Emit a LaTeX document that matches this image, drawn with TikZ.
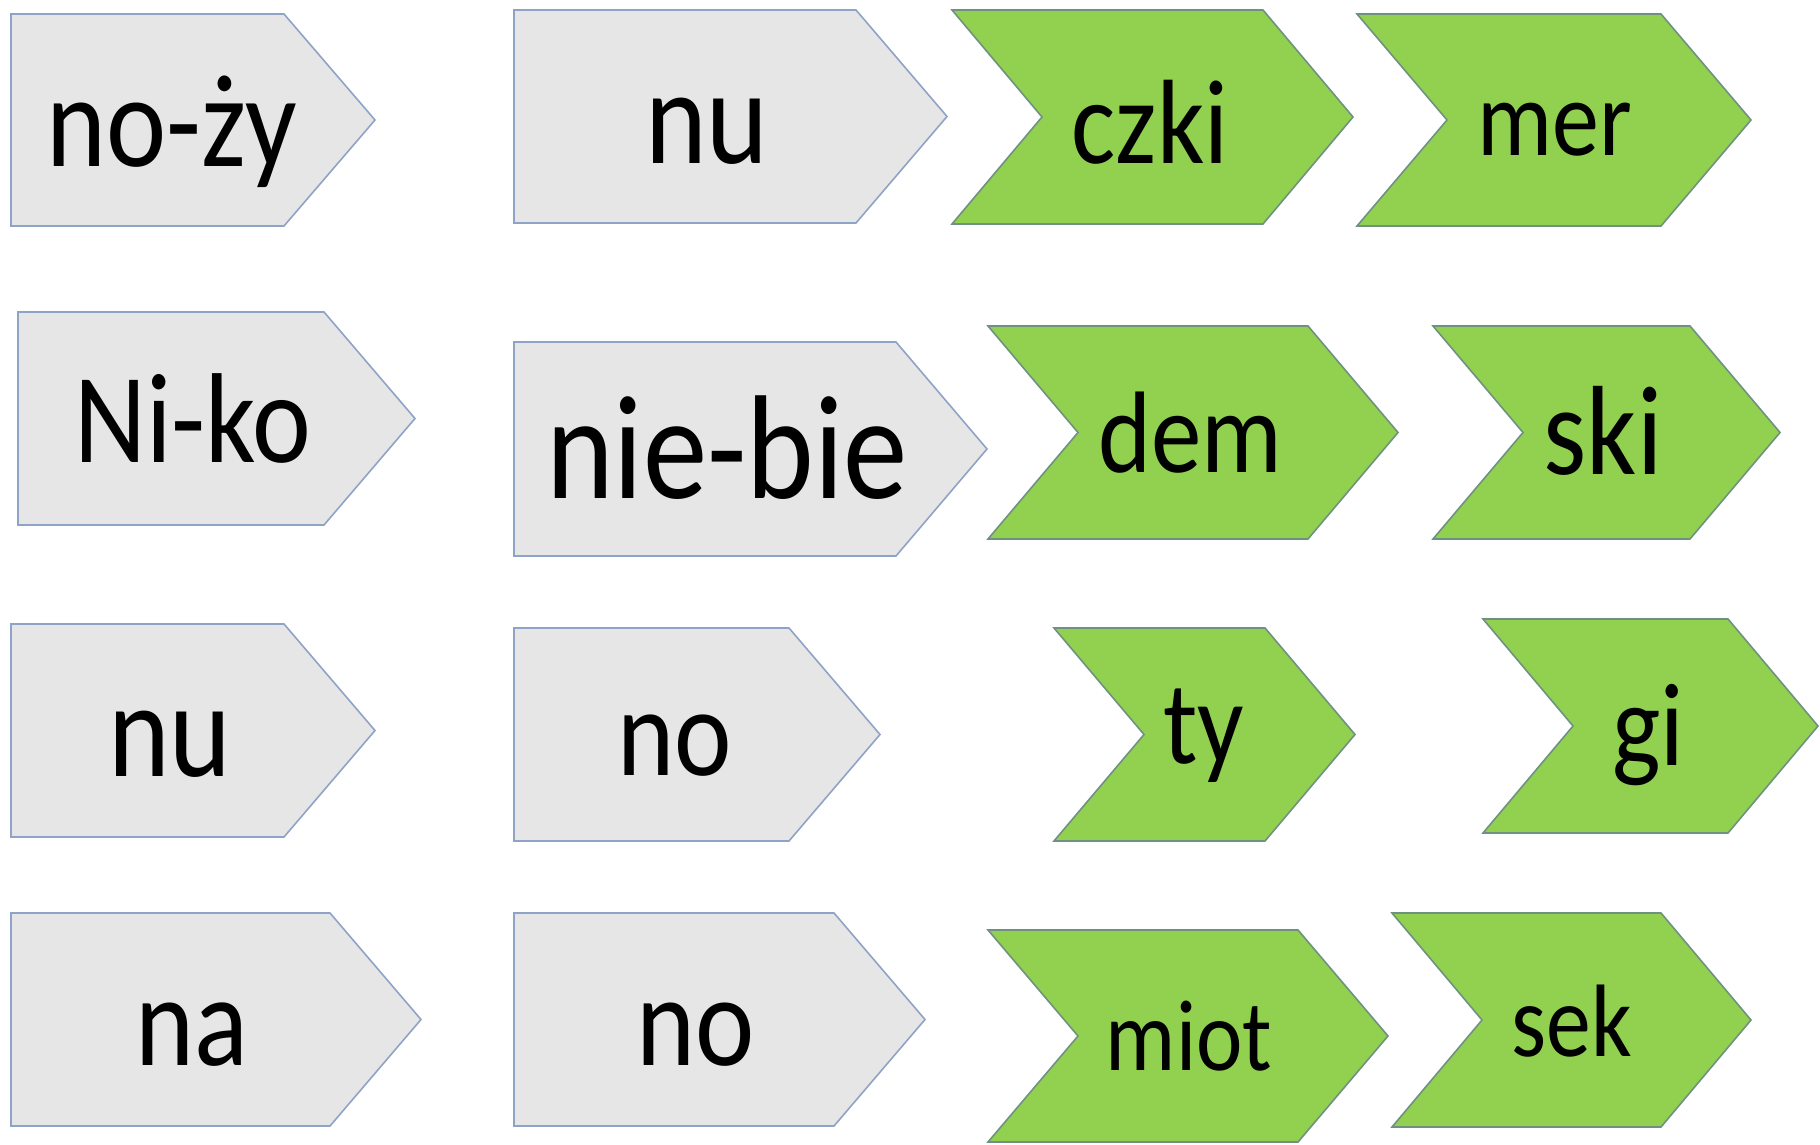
\documentclass[tikz,border=0pt]{standalone}
\usepackage{fontspec}
\setmainfont{Carlito}
\usepackage{tikz}
\definecolor{boxgrey}{HTML}{E7E6E6}
\definecolor{boxedge}{HTML}{8FA3C6}
\definecolor{leaf}{HTML}{92D050}
\definecolor{leafedge}{HTML}{6F9280}
\newcommand\wsize[1]{\fontsize{#1}{#1}\selectfont}
% grey arrow: left, top, bottom, tip
\def\GA#1#2#3#4{\draw [grey arrow] (#1,#2) -- (#4-91,#2) -- (#4,{(#2+#3)/2}) -- (#4-91,#3) -- (#1,#3) -- cycle;}
% green chevron: left, top, bottom, tip
\def\CH#1#2#3#4{\draw [green chevron] (#1,#2) -- (#4-90,#2) -- (#4,{(#2+#3)/2}) -- (#4-90,#3) -- (#1,#3) -- (#1+90,{(#2+#3)/2}) -- cycle;}

\begin{document}
\begin{tikzpicture}[x=1pt,y=-1pt,
  grey arrow/.style={fill=boxgrey,draw=boxedge,line width=1.6pt},
  green chevron/.style={fill=leaf,draw=leafedge,line width=1.6pt},
  word/.style={anchor=base,inner sep=0pt,xscale=0.87}]
\useasboundingbox (0,0) rectangle (1820,1145);
% row 1
\GA{11}{14}{226}{375}
\GA{514}{10}{223}{947}
\CH{952}{10}{224}{1353}
\CH{1357}{14}{226}{1751}
\node[word,font=\wsize{131}] (noz) at (172,166) {no-ży};
\node[word,font=\wsize{135}] (nuA) at (707,163) {nu};
\node[word,font=\wsize{120}] (czki) at (1150,163) {czki};
\node[word,font=\wsize{108}] (mer) at (1555,155) {mer};
% row 2
\GA{18}{312}{525}{415}
\GA{514}{342}{556}{987}
\CH{988}{326}{539}{1398}
\CH{1433}{326}{539}{1780}
\node[word,font=\wsize{128}] (niko) at (193,462) {Ni-ko};
\node[word,font=\wsize{148}] (niebie) at (727,498) {nie-bie};
\node[word,font=\wsize{116}] (dem) at (1190,472) {dem};
\node[word,font=\wsize{127}] (ski) at (1603,474) {ski};
% row 3
\GA{11}{624}{837}{375}
\GA{514}{628}{841}{880}
\CH{1054}{628}{841}{1355}
\CH{1483}{619}{833}{1818}
\node[word,font=\wsize{135}] (nuB) at (170,776) {nu};
\node[word,font=\wsize{125}] (noA) at (675,775) {no};
\node[word,font=\wsize{118}] (ty) at (1204,763) {ty};
\node[word,font=\wsize{118}] (gi) at (1648,765) {gi};
% row 4
\GA{11}{913}{1126}{421}
\GA{514}{913}{1126}{925}
\CH{988}{930}{1142}{1388}
\CH{1392}{913}{1127}{1751}
\node[word,font=\wsize{129}] (na) at (192,1065) {na};
\node[word,font=\wsize{129}] (noB) at (696,1065) {no};
\node[word,font=\wsize{101}] (miot) at (1189,1070) {miot};
\node[word,font=\wsize{103}] (sek) at (1572,1056) {sek};
\end{tikzpicture}
\end{document}
